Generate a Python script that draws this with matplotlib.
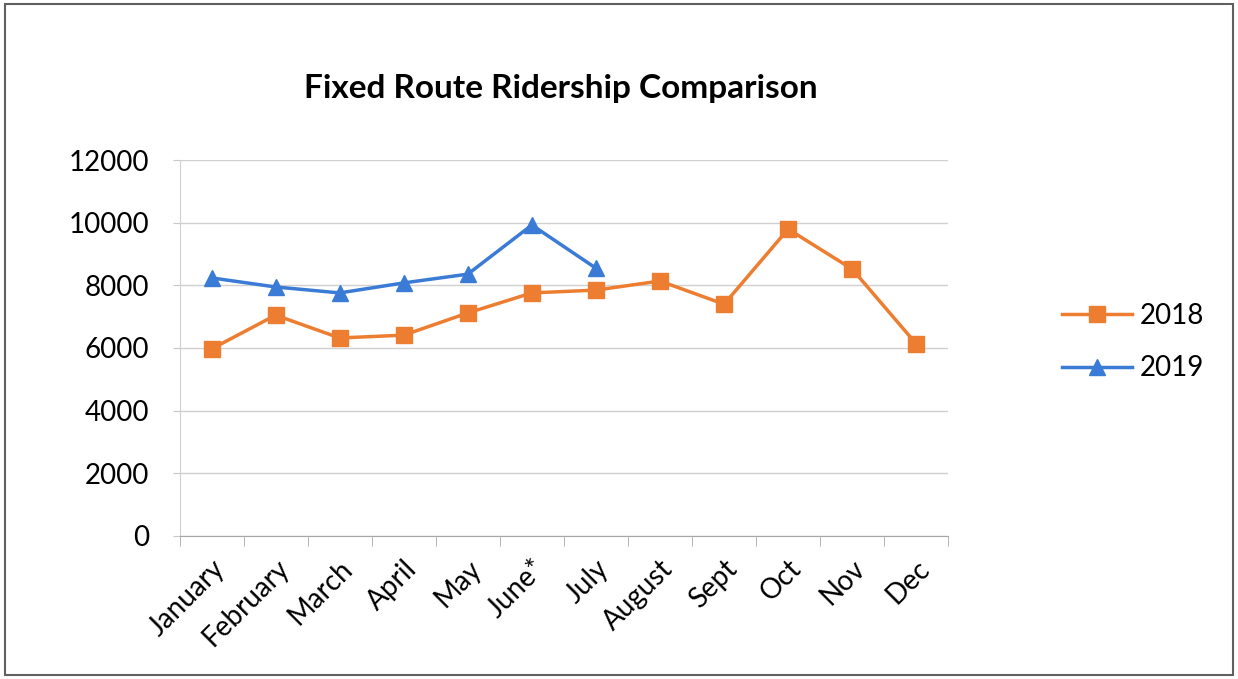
import matplotlib
matplotlib.use("Agg")
import matplotlib.pyplot as plt
import numpy as np
from matplotlib.patches import Rectangle

months = ["January", "February", "March", "April", "May", "June*", "July",
          "August", "Sept", "Oct", "Nov", "Dec"]
riders_2018 = [5970, 7050, 6320, 6410, 7120, 7760, 7850, 8140, 7400, 9800, 8520, 6130]
riders_2019 = [8240, 7950, 7760, 8080, 8360, 9930, 8550]
y_ticks = [0, 2000, 4000, 6000, 8000, 10000, 12000]

plt.rcParams['font.family'] = ['Lato', 'DejaVu Sans']

fig = plt.figure(figsize=(12.38, 6.79), dpi=100)
ax = fig.add_axes([0.145, 0.211, 0.621, 0.553])

x = np.arange(len(months))
ax.plot(x, riders_2018, color="#ED7D31", lw=2.5, marker="s", ms=11, label="2018")
ax.plot(x[:len(riders_2019)], riders_2019, color="#3A7BD5", lw=2.5, marker="^", ms=12, label="2019")

ax.set_xlim(-0.5, len(months) - 0.5)
ax.set_ylim(0, 12000)
ax.set_yticks(y_ticks)
ax.set_yticklabels([str(v) for v in y_ticks], fontsize=20)
ax.yaxis.grid(True, color="#D0D0D0", lw=1)
ax.set_axisbelow(True)

ax.set_xticks(x)
ax.set_xticklabels(months, rotation=45, ha="right", rotation_mode="anchor", fontsize=20)
ax.set_xticks(np.arange(-0.5, len(months)), minor=True)
ax.tick_params(axis="x", which="major", length=0, pad=14)
ax.tick_params(axis="x", which="minor", length=7, color="#A6A6A6")
ax.tick_params(axis="y", length=5, color="#C8C8C8", pad=17)

for s in ["top", "right"]:
    ax.spines[s].set_visible(False)
ax.spines["left"].set_color("#D0D0D0")
ax.spines["bottom"].set_color("#A6A6A6")

fig.text(0.453, 0.87, "Fixed Route Ridership Comparison", ha="center", va="center",
         fontsize=24, fontweight="bold")

fig.legend(loc="center left", bbox_to_anchor=(0.838, 0.496), frameon=False,
           fontsize=20, handlelength=2.5, handletextpad=0.3, labelspacing=0.95)

fig.add_artist(Rectangle((0.004, 0.006), 0.992, 0.988, transform=fig.transFigure,
                         fill=False, edgecolor="#606060", lw=1.5))

fig.savefig("out.png", dpi=100)
